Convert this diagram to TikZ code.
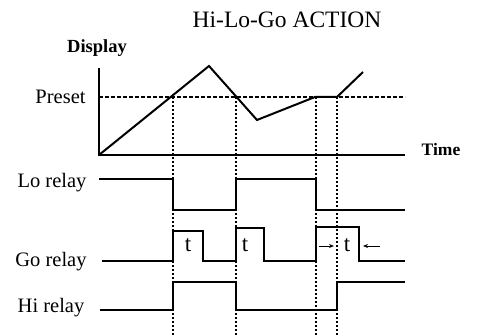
\documentclass[tikz,border=0pt]{standalone}
\usepackage{fontspec}
\setmainfont{Liberation Serif}
\usetikzlibrary{arrows.meta}
\begin{document}
\begin{tikzpicture}[x=1pt,y=-1pt,
  wave/.style={line width=2pt,line join=miter},
  guide/.style={line width=1.8pt,dash pattern=on 2pt off 2pt},
  presetline/.style={line width=1.8pt,dash pattern=on 3.5pt off 2.5pt},
  lbl/.style={font=\fontsize{20.5}{22}\selectfont,inner sep=0pt},
  tlbl/.style={font=\fontsize{23}{24}\selectfont,inner sep=0pt},
  tarrow/.style={line width=0.9pt,-{Stealth[length=5pt,width=4pt]}}]
\useasboundingbox (0,0) rectangle (477,336);
% texts
\node[inner sep=0pt,font=\fontsize{23.5}{25}\selectfont] (title) at (287,20) {Hi-Lo-Go ACTION};
\node[inner sep=0pt,font=\fontsize{18.5}{20}\selectfont\bfseries] (display) at (97,48) {Display};
\node[inner sep=0pt,font=\fontsize{17.5}{19}\selectfont\bfseries] (time) at (441,150) {Time};
\node[lbl] (preset) at (60.5,97) {Preset};
\node[lbl] (lo) at (52,183) {Lo relay};
\node[lbl] (go) at (51,262) {Go relay};
\node[lbl] (hi) at (51,308) {Hi relay};
\node[tlbl] (t1) at (188,245) {t};
\node[tlbl] (t2) at (245,245) {t};
\node[tlbl] (t3) at (347,245) {t};
% guides
\draw[presetline] (99,97) -- (405,97);
\foreach \gx in {173,236,316,337} \draw[guide] (\gx,97) -- (\gx,336);
% axes
\draw[wave] (99,68) -- (99,155) -- (405,155);
% display curve
\draw[wave] (99,155) -- (209,66) -- (257,120) -- (315,97) -- (337,97) -- (363,72);
% Lo relay
\draw[wave] (99,179) -- (173,179) -- (173,210) -- (236,210) -- (236,179) -- (316,179) -- (316,210) -- (405,210);
% Go relay
\draw[wave] (102,261) -- (173,261) -- (173,231) -- (203,231) -- (203,261) -- (236,261) -- (236,228) -- (264,228) -- (264,261) -- (316,261) -- (316,227) -- (359,227) -- (359,261) -- (405,261);
% Hi relay
\draw[wave] (100,310) -- (173,310) -- (173,282) -- (236,282) -- (236,310) -- (337,310) -- (337,282) -- (405,282);
% t arrows
\coordinate (a1s) at (319,246);
\coordinate (a1e) at (334,246);
\coordinate (a2s) at (380,246);
\coordinate (a2e) at (363,246);
\draw[tarrow] (a1s) -- (a1e);
\draw[tarrow] (a2s) -- (a2e);
\end{tikzpicture}
\end{document}
